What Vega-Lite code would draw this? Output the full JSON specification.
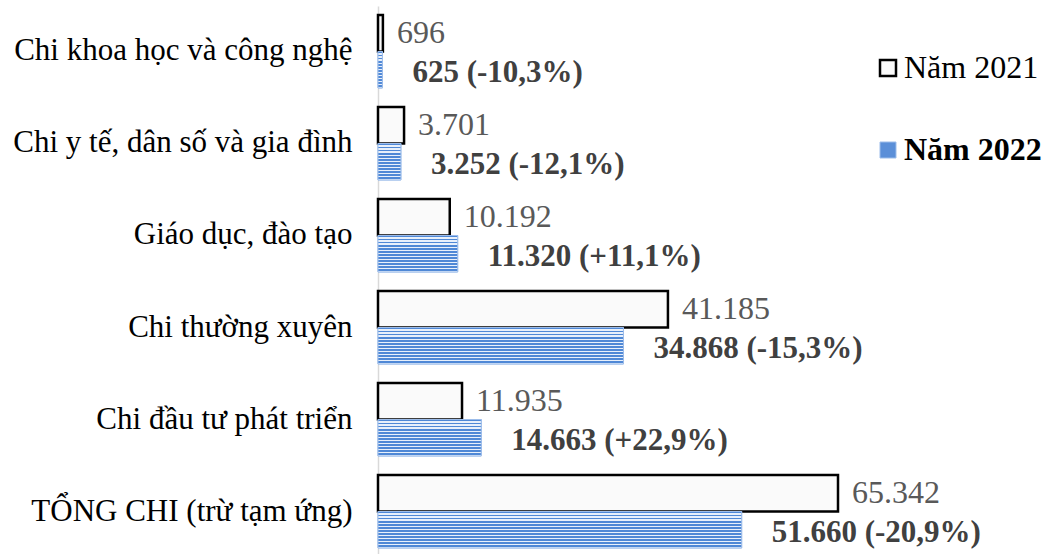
{
  "$schema": "https://vega.github.io/schema/vega-lite/v6.json",
  "width": 674,
  "height": 551,
  "autosize": {"type": "none"},
  "padding": {"left": 378, "top": 6, "right": 0, "bottom": 0},
  "background": "white",
  "config": {"view": {"stroke": null}, "font": "Liberation Serif"},
  "data": {
    "values": [
      {"category": "Chi khoa học và công nghệ", "year": "Năm 2021", "value": 696, "label": "696"},
      {"category": "Chi khoa học và công nghệ", "year": "Năm 2022", "value": 625, "label": "625 (-10,3%)"},
      {"category": "Chi y tế, dân số và gia đình", "year": "Năm 2021", "value": 3701, "label": "3.701"},
      {"category": "Chi y tế, dân số và gia đình", "year": "Năm 2022", "value": 3252, "label": "3.252 (-12,1%)"},
      {"category": "Giáo dục, đào tạo", "year": "Năm 2021", "value": 10192, "label": "10.192"},
      {"category": "Giáo dục, đào tạo", "year": "Năm 2022", "value": 11320, "label": "11.320 (+11,1%)"},
      {"category": "Chi thường xuyên", "year": "Năm 2021", "value": 41185, "label": "41.185"},
      {"category": "Chi thường xuyên", "year": "Năm 2022", "value": 34868, "label": "34.868 (-15,3%)"},
      {"category": "Chi đầu tư phát triển", "year": "Năm 2021", "value": 11935, "label": "11.935"},
      {"category": "Chi đầu tư phát triển", "year": "Năm 2022", "value": 14663, "label": "14.663 (+22,9%)"},
      {"category": "TỔNG CHI (trừ tạm ứng)", "year": "Năm 2021", "value": 65342, "label": "65.342"},
      {"category": "TỔNG CHI (trừ tạm ứng)", "year": "Năm 2022", "value": 51660, "label": "51.660 (-20,9%)"}
    ]
  },
  "encoding": {
    "y": {
      "field": "category",
      "type": "nominal",
      "sort": ["Chi khoa học và công nghệ", "Chi y tế, dân số và gia đình", "Giáo dục, đào tạo", "Chi thường xuyên", "Chi đầu tư phát triển", "TỔNG CHI (trừ tạm ứng)"],
      "scale": {"paddingInner": 0.207, "paddingOuter": 0.098},
      "axis": {
        "title": null,
        "domainColor": "#d9d9d9",
        "domainWidth": 1.5,
        "ticks": false,
        "labelFontSize": 31,
        "labelColor": "black",
        "labelPadding": 26,
        "labelFont": "Liberation Serif",
        "labelLimit": 400
      }
    },
    "yOffset": {"field": "year", "type": "nominal", "scale": {"domain": ["Năm 2021", "Năm 2022"]}},
    "x": {"field": "value", "type": "quantitative", "scale": {"domain": [0, 95740], "nice": false}, "axis": null}
  },
  "layer": [
    {
      "mark": {"type": "bar"},
      "encoding": {
        "fill": {
          "field": "year",
          "type": "nominal",
          "scale": {"domain": ["Năm 2021", "Năm 2022"], "range": ["#fafafa", "#5b8fd8"]},
          "legend": {
            "title": null,
            "orient": "none",
            "legendX": 494,
            "legendY": 46,
            "symbolType": "square",
            "symbolSize": 256,
            "symbolStrokeWidth": 2,
            "symbolOpacity": 1,
            "labelFontSize": 32,
            "labelFont": "Liberation Serif",
            "labelColor": "black",
            "labelOffset": 0,
            "rowPadding": 50,
            "labelLimit": 300,
            "encode": {
              "labels": {"update": {"fontWeight": {"signal": "datum.label === 'Năm 2022' ? 'bold' : 'normal'"}}}
            }
          }
        },
        "stroke": {
          "field": "year",
          "type": "nominal",
          "scale": {"domain": ["Năm 2021", "Năm 2022"], "range": ["#000000", "#9dbdea"]},
          "legend": null
        },
        "strokeWidth": {
          "field": "year",
          "type": "nominal",
          "scale": {"domain": ["Năm 2021", "Năm 2022"], "range": [2.5, 1]},
          "legend": null
        }
      }
    },
    {
      "transform": [{"filter": "datum.year === 'Năm 2022'"}],
      "mark": {
        "type": "bar",
        "stroke": "#9dbdea",
        "strokeWidth": 1,
        "fill": {
          "gradient": "linear", "x1": 0, "y1": 0, "x2": 0, "y2": 1,
          "stops": [
            {"offset": 0, "color": "#4f88d6"}, {"offset": 0.0517, "color": "#4f88d6"}, {"offset": 0.0517, "color": "#e8f0fb"}, {"offset": 0.0833, "color": "#e8f0fb"},
            {"offset": 0.0833, "color": "#4f88d6"}, {"offset": 0.135, "color": "#4f88d6"}, {"offset": 0.135, "color": "#e8f0fb"}, {"offset": 0.1667, "color": "#e8f0fb"},
            {"offset": 0.1667, "color": "#4f88d6"}, {"offset": 0.2183, "color": "#4f88d6"}, {"offset": 0.2183, "color": "#e8f0fb"}, {"offset": 0.25, "color": "#e8f0fb"},
            {"offset": 0.25, "color": "#4f88d6"}, {"offset": 0.3017, "color": "#4f88d6"}, {"offset": 0.3017, "color": "#e8f0fb"}, {"offset": 0.3333, "color": "#e8f0fb"},
            {"offset": 0.3333, "color": "#4f88d6"}, {"offset": 0.385, "color": "#4f88d6"}, {"offset": 0.385, "color": "#e8f0fb"}, {"offset": 0.4167, "color": "#e8f0fb"},
            {"offset": 0.4167, "color": "#4f88d6"}, {"offset": 0.4683, "color": "#4f88d6"}, {"offset": 0.4683, "color": "#e8f0fb"}, {"offset": 0.5, "color": "#e8f0fb"},
            {"offset": 0.5, "color": "#4f88d6"}, {"offset": 0.5517, "color": "#4f88d6"}, {"offset": 0.5517, "color": "#e8f0fb"}, {"offset": 0.5833, "color": "#e8f0fb"},
            {"offset": 0.5833, "color": "#4f88d6"}, {"offset": 0.635, "color": "#4f88d6"}, {"offset": 0.635, "color": "#e8f0fb"}, {"offset": 0.6667, "color": "#e8f0fb"},
            {"offset": 0.6667, "color": "#4f88d6"}, {"offset": 0.7183, "color": "#4f88d6"}, {"offset": 0.7183, "color": "#e8f0fb"}, {"offset": 0.75, "color": "#e8f0fb"},
            {"offset": 0.75, "color": "#4f88d6"}, {"offset": 0.8017, "color": "#4f88d6"}, {"offset": 0.8017, "color": "#e8f0fb"}, {"offset": 0.8333, "color": "#e8f0fb"},
            {"offset": 0.8333, "color": "#4f88d6"}, {"offset": 0.885, "color": "#4f88d6"}, {"offset": 0.885, "color": "#e8f0fb"}, {"offset": 0.9167, "color": "#e8f0fb"},
            {"offset": 0.9167, "color": "#4f88d6"}, {"offset": 0.9683, "color": "#4f88d6"}, {"offset": 0.9683, "color": "#e8f0fb"}, {"offset": 1, "color": "#e8f0fb"}
          ]
        }
      },
      "encoding": {}
    },
    {
      "transform": [{"filter": "datum.year === 'Năm 2021'"}],
      "mark": {"type": "text", "align": "left", "baseline": "middle", "dx": 14, "fontSize": 32, "color": "#595959", "font": "Liberation Serif"},
      "encoding": {
        "text": {"field": "label"}
      }
    },
    {
      "transform": [{"filter": "datum.year === 'Năm 2022'"}],
      "mark": {"type": "text", "align": "left", "baseline": "middle", "dx": 30, "dy": 3, "fontSize": 31, "fontWeight": "bold", "color": "#404040", "font": "Liberation Serif"},
      "encoding": {
        "text": {"field": "label"}
      }
    }
  ]
}
